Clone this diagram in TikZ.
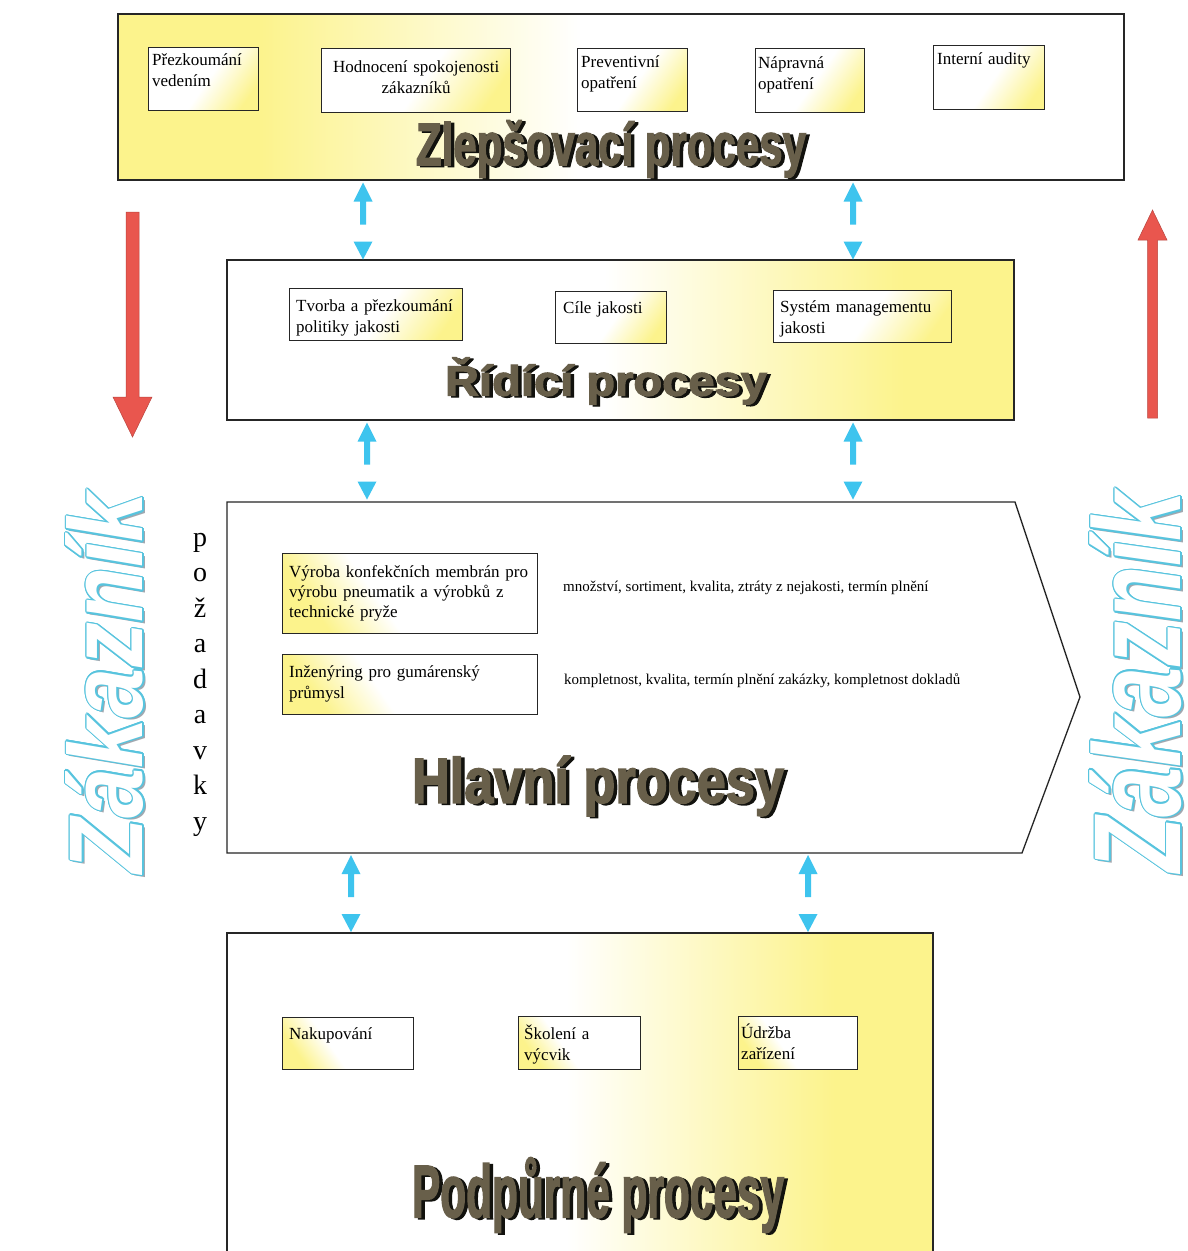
\documentclass[tikz,border=0pt]{standalone}
\usepackage{fontspec}
\setmainfont{Liberation Serif}
\newfontfamily\ttlfont{Liberation Sans Bold}[FakeBold=2.5]
\newfontfamily\zakfont{Liberation Sans Bold Italic}
\usetikzlibrary{calc}
\definecolor{Yel}{RGB}{252,243,140}
\definecolor{cyanA}{RGB}{62,196,238}
\definecolor{redA}{RGB}{233,86,78}
\definecolor{zakLine}{RGB}{88,196,222}
\definecolor{zakShad}{RGB}{160,168,176}
\definecolor{ttlFront}{RGB}{104,95,74}
\definecolor{ttlShad}{RGB}{18,18,14}
\pgfdeclarehorizontalshading{yelleft}{100bp}{color(0bp)=(Yel); color(32bp)=(Yel); color(48bp)=(white); color(100bp)=(white)}
\pgfdeclarehorizontalshading{yelright}{100bp}{color(0bp)=(white); color(49bp)=(white); color(68bp)=(Yel); color(100bp)=(Yel)}
\pgfdeclarehorizontalshading{cornerR}{100bp}{color(0bp)=(white); color(52bp)=(white); color(76bp)=(Yel); color(100bp)=(Yel)}
\pgfdeclarehorizontalshading{cornerL}{100bp}{color(0bp)=(Yel); color(26bp)=(Yel); color(42bp)=(white); color(100bp)=(white)}
\newcommand\ttl[3]{\resizebox*{#1}{#2}{\ttlfont #3}}
\newcommand\zk[1]{\resizebox*{380pt}{#1}{\zakfont Zákazník}}
\newcommand\bluepair[2]{%
  \begin{scope}[shift={(#1,0 |- #2)}]
    \fill[cyanA] (0,2) -- (9.5,21) -- (3,21) -- (3,44) -- (-3,44) -- (-3,21) -- (-9.5,21) -- cycle;
    \fill[cyanA] (-9.5,61) -- (9.5,61) -- (0,79) -- cycle;
  \end{scope}}
\tikzset{
  bigbox/.style={draw=black!85, line width=1.5pt, inner sep=0pt, anchor=north west, shade},
  smallbox/.style={draw=black!85, line width=1.3pt, inner sep=0pt, anchor=north west, shade},
  boxR/.style={shading=cornerR, shading angle=-35},
  boxL/.style={shading=cornerL, shading angle=35},
  btxt/.style={font=\fontsize{17}{21}\selectfont, inner sep=0pt, anchor=base west, align=left, text width=250pt},
  ctxt/.style={font=\fontsize{15}{19}\selectfont, inner sep=0pt, anchor=base west},
  ttlS/.style={inner sep=0pt, text=ttlShad},
  ttlF/.style={inner sep=0pt, text=ttlFront},
  zakN/.style={inner sep=0pt, rotate=90},
  redarrow/.style={fill=redA, draw=redA!80!black, line width=0.5pt},
}
\begin{document}
\begin{tikzpicture}[x=1pt, y=-1pt]
\useasboundingbox (0,0) rectangle (1187,1251);
\clip (0,0) rectangle (1187,1251);
\fill[white] (0,0) rectangle (1187,1251);

% ---------- big boxes ----------
\node[bigbox, shading=yelleft, minimum width=1006pt, minimum height=166pt] (zl) at (117,13) {};
\node[bigbox, shading=yelright, minimum width=787pt, minimum height=160pt] (rd) at (226,259) {};
\coordinate (hlNW) at (227,502);
\coordinate (hlNE) at (1015,502);
\coordinate (hlTip) at (1080,697);
\coordinate (hlSE) at (1022,853);
\coordinate (hlSW) at (227,853);
\draw[line width=1.3pt, draw=black!85, fill=white] (hlNW) -- (hlNE) -- (hlTip) -- (hlSE) -- (hlSW) -- cycle;
\coordinate (pdNW) at (227,933);
\coordinate (pdNE) at (933,933);
\shade[shading=yelright] (pdNW) rectangle (933,1270);
\draw[line width=1.5pt, draw=black!85] (227,1270) -- (pdNW) -- (pdNE) -- (933,1270);

% ---------- small boxes: Zlepšovací ----------
\node[smallbox, boxR, minimum width=110pt, minimum height=63pt] (a1) at (148,47) {};
\node[smallbox, boxR, minimum width=189pt, minimum height=64pt] (a2) at (321,48) {};
\node[smallbox, boxR, minimum width=110pt, minimum height=63pt] (a3) at (577,48) {};
\node[smallbox, boxR, minimum width=109pt, minimum height=64pt] (a4) at (755,48) {};
\node[smallbox, boxR, minimum width=111pt, minimum height=64pt] (a5) at (933,45) {};
\node[btxt] (a1t) at ($(a1.north west)+(4,18)$) {Přezkoumání\\vedením};
\node[btxt, anchor=base, align=center, text width=185pt] (a2t) at ($(a2.north)+(0,24)$) {Hodnocení spokojenosti\\zákazníků};
\node[btxt] (a3t) at ($(a3.north west)+(4,19)$) {Preventivní\\opatření};
\node[btxt] (a4t) at ($(a4.north west)+(3,20)$) {Nápravná\\opatření};
\node[btxt] (a5t) at ($(a5.north west)+(4,19)$) {Interní audity};

% ---------- small boxes: Řídící ----------
\node[smallbox, boxR, minimum width=173pt, minimum height=52pt] (b1) at (289,288) {};
\node[smallbox, boxR, minimum width=111pt, minimum height=52pt] (b2) at (555,291) {};
\node[smallbox, boxR, minimum width=178pt, minimum height=52pt] (b3) at (773,290) {};
\begin{scope}
  \clip ($(b1.north west)+(1,1)$) rectangle ($(b1.south east)+(-1,-1)$);
  \node[btxt] (b1t) at ($(b1.north west)+(7,23)$) {Tvorba a přezkoumání\\politiky jakosti};
\end{scope}
\node[btxt] (b2t) at ($(b2.north west)+(8,22)$) {Cíle jakosti};
\node[btxt] (b3t) at ($(b3.north west)+(7,22)$) {Systém managementu\\jakosti};

% ---------- small boxes: Hlavní ----------
\node[smallbox, boxL, minimum width=255pt, minimum height=80pt] (c1) at (282,553) {};
\node[smallbox, boxL, minimum width=255pt, minimum height=60pt] (c2) at (282,654) {};
\node[btxt, font=\fontsize{17}{20}\selectfont] (c1t) at ($(c1.north west)+(7,24)$) {Výroba konfekčních membrán pro\\výrobu pneumatik a výrobků z\\technické pryže};
\node[btxt] (c2t) at ($(c2.north west)+(7,23)$) {Inženýring pro gumárenský\\průmysl};
\node[ctxt] (c1m) at (563,591) {množství, sortiment, kvalita, ztráty z nejakosti, termín plnění};
\node[ctxt] (c2m) at (564,684) {kompletnost, kvalita, termín plnění zakázky, kompletnost dokladů};

% ---------- small boxes: Podpůrné ----------
\node[smallbox, boxL, minimum width=131pt, minimum height=52pt] (d1) at (282,1017) {};
\node[smallbox, boxL, minimum width=122pt, minimum height=53pt] (d2) at (518,1016) {};
\node[smallbox, boxL, minimum width=119pt, minimum height=53pt] (d3) at (738,1016) {};
\node[btxt] (d1t) at ($(d1.north west)+(7,22)$) {Nakupování};
\node[btxt] (d2t) at ($(d2.north west)+(6,23)$) {Školení a\\výcvik};
\node[btxt] (d3t) at ($(d3.north west)+(3,22)$) {Údržba\\zařízení};

% ---------- titles ----------
\node[ttlS] (zlS) at (614.5,150.5) {\ttl{390pt}{57pt}{Zlepšovací procesy}};
\node[ttlF] (zlT) at (611,149) {\ttl{390pt}{57pt}{Zlepšovací procesy}};
\node[ttlS] (rdS) at (609.5,382.5) {\ttl{322pt}{47pt}{Řídící procesy}};
\node[ttlF] (rdT) at (606,381) {\ttl{322pt}{47pt}{Řídící procesy}};
\node[ttlS] (hlS) at (601.5,787.5) {\ttl{372pt}{60pt}{Hlavní procesy}};
\node[ttlF] (hlT) at (598,786) {\ttl{372pt}{60pt}{Hlavní procesy}};
\node[ttlS] (pdS) at (601.5,1196.5) {\ttl{372pt}{75pt}{Podpůrné procesy}};
\node[ttlF] (pdT) at (598,1195) {\ttl{372pt}{75pt}{Podpůrné procesy}};

% ---------- blue two-way arrows ----------
\bluepair{363}{zl.south}
\bluepair{853}{zl.south}
\bluepair{367}{rd.south}
\bluepair{853}{rd.south}
\bluepair{351}{hlSW}
\bluepair{808}{hlSW}

% ---------- red arrows ----------
\fill[redarrow] (126,212) -- (139,212) -- (139,397) -- (152,397) -- (132.5,437) -- (113,397) -- (126,397) -- cycle;
\fill[redarrow] (1147.5,418) -- (1147.5,240) -- (1138,240) -- (1152.5,210) -- (1167,240) -- (1157.5,240) -- (1157.5,418) -- cycle;

% ---------- požadavky ----------
\node[font=\fontsize{28}{35.5}\selectfont, text width=30pt, align=center, anchor=base, inner sep=0pt] (poz) at (200,546) {p\\o\\ž\\a\\d\\a\\v\\k\\y};

% ---------- Zákazník (outlined) ----------
\coordinate (zkLc) at (105,683);
\coordinate (zkRc) at (1136,682);
\node[zakN, text=zakShad] (zkLs) at ($(zkLc)+(2.5,2.5)$) {\zk{78pt}};
\foreach \a in {0,30,...,330}
  \node[zakN, text=zakLine] (zkL\a) at ($(zkLc)+(\a:1.4)$) {\zk{78pt}};
\node[zakN, text=white] (zkL) at (zkLc) {\zk{78pt}};
\node[zakN, text=zakShad] (zkRs) at ($(zkRc)+(2.5,2.5)$) {\zk{92pt}};
\foreach \a in {0,30,...,330}
  \node[zakN, text=zakLine] (zkR\a) at ($(zkRc)+(\a:1.4)$) {\zk{92pt}};
\node[zakN, text=white] (zkR) at (zkRc) {\zk{92pt}};
\end{tikzpicture}
\end{document}
